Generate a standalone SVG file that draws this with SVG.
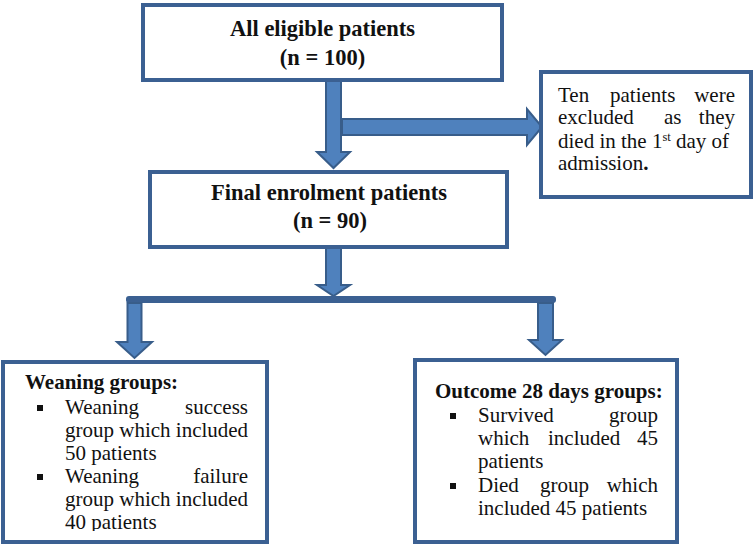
<svg xmlns="http://www.w3.org/2000/svg" width="756" height="546" viewBox="0 0 756 546">
<style>
.box{fill:#fff;stroke:#3b6092;stroke-width:4}
.arr{fill:#4f81bd;stroke:#385d8a;stroke-width:2;stroke-linejoin:miter}
.bar{fill:#3b6092}
.t{font-family:"Liberation Serif","Times New Roman",serif;font-size:21px;fill:#111}
.b{font-weight:bold}
.h{font-family:"Liberation Serif","Times New Roman",serif;font-size:22.5px;font-weight:bold;fill:#111;text-anchor:middle}
.e{text-anchor:end}
.bul{fill:#111}
</style>
<defs>
<clipPath id="clipW"><rect x="0" y="360" width="270" height="171"/></clipPath>
</defs>
<rect width="756" height="546" fill="#fff"/>
<g id="connectors">
<path class="arr" d="M326,80 L341,80 L341,152 L350,152 L333.5,168 L317,152 L326,152 Z"/>
<path class="arr" d="M342,119 L527,119 L527,109 L542,127 L527,145 L527,135 L342,135 Z"/>
<path class="arr" d="M326,247 L341,247 L341,285 L350,285 L333.5,296 L317,285 L326,285 Z"/>
<rect class="bar" x="126" y="296" width="430" height="7" rx="3"/>
<path class="arr" d="M127.5,303 L141.5,303 L141.5,342 L152,342 L134.5,358 L117,342 L127.5,342 Z"/>
<path class="arr" d="M538,303 L553,303 L553,340 L562,340 L545.5,355 L529,340 L538,340 Z"/>
</g>
<g id="node-all">
<rect class="box" x="143" y="5" width="359" height="75"/>
<text class="h" x="322.5" y="36">All eligible patients</text>
<text class="h" x="322.5" y="65">(n = 100)</text>
</g>
<g id="node-excluded">
<rect class="box" x="541" y="72" width="210" height="125"/>
<text class="t" x="558" y="102">Ten</text>
<text class="t" x="610" y="102">patients</text>
<text class="t e" x="735" y="102">were</text>
<text class="t" x="558" y="124">excluded</text>
<text class="t" x="664" y="124">as</text>
<text class="t e" x="735" y="124">they</text>
<text class="t" x="558" y="148">died in the 1<tspan font-size="12.5" dy="-7">st</tspan><tspan dy="7"> day of</tspan></text>
<text class="t" x="558" y="170">admission<tspan class="b">.</tspan></text>
</g>
<g id="node-final">
<rect class="box" x="150" y="172" width="357" height="75"/>
<text class="h" x="329" y="200" font-size="20.5">Final enrolment patients</text>
<text class="h" x="330" y="228">(n = 90)</text>
</g>
<g id="node-weaning">
<rect class="box" x="3" y="362" width="264" height="180"/>
<text class="t b" x="25" y="389">Weaning groups:</text>
<rect class="bul" x="37" y="405" width="6" height="6"/>
<rect class="bul" x="37" y="474" width="6" height="6"/>
<g clip-path="url(#clipW)">
<text class="t" x="65" y="414">Weaning</text>
<text class="t e" x="248" y="414">success</text>
<text class="t" x="65" y="437">group which included</text>
<text class="t" x="65" y="460">50 patients</text>
<text class="t" x="65" y="483">Weaning</text>
<text class="t e" x="248" y="483">failure</text>
<text class="t" x="65" y="506">group which included</text>
<text class="t" x="65" y="529">40 patients</text>
</g>
</g>
<g id="node-outcome">
<rect class="box" x="415" y="360" width="262" height="182"/>
<text class="t b" x="435" y="398">Outcome 28 days groups:</text>
<rect class="bul" x="450" y="413" width="6" height="6"/>
<rect class="bul" x="450" y="483" width="6" height="6"/>
<text class="t" x="478" y="422">Survived</text>
<text class="t e" x="658" y="422">group</text>
<text class="t" x="478" y="445">which</text>
<text class="t" x="548" y="445">included</text>
<text class="t e" x="658" y="445">45</text>
<text class="t" x="478" y="468">patients</text>
<text class="t" x="478" y="492">Died</text>
<text class="t" x="540" y="492">group</text>
<text class="t e" x="658" y="492">which</text>
<text class="t" x="478" y="515">included 45 patients</text>
</g>
</svg>
